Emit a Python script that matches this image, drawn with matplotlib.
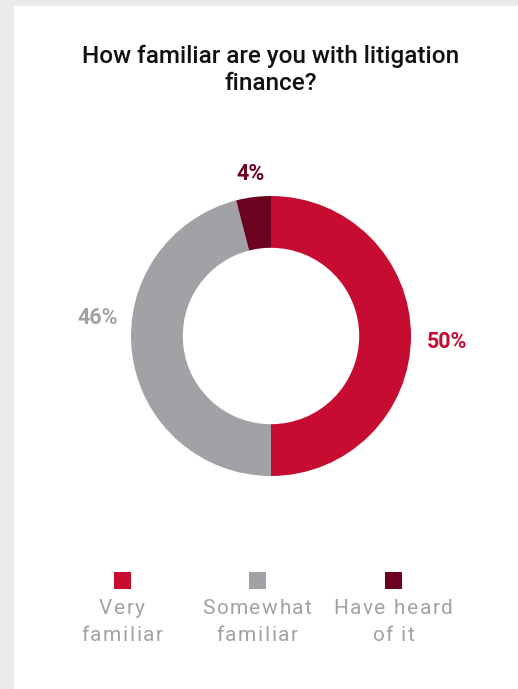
import matplotlib.pyplot as plt
from matplotlib.patches import Rectangle
from matplotlib.textpath import TextPath
from matplotlib.font_manager import FontProperties

labels = ['Very\nfamiliar', 'Somewhat\nfamiliar', 'Have heard\nof it']
values = [50, 46, 4]
colors = ['#c60c30', '#a2a1a6', '#6a0220']
title = 'How familiar are you with litigation\nfinance?'

W, H = 518, 689
fig = plt.figure(figsize=(W / 100, H / 100), dpi=100)
fig.patch.set_facecolor('#ebebeb')
# white card behind everything
bg = fig.add_axes([0, 0, 1, 1], zorder=-1)
bg.set_xlim(0, W)
bg.set_ylim(H, 0)
bg.axis('off')
bg.add_patch(Rectangle((14, 6), W - 14, H - 6, facecolor='white', edgecolor='none'))

fig.text(271 / W, 1 - 70 / H, title, ha='center', va='center',
         fontsize=17.5, fontweight='medium', family='Roboto', color='#111111',
         linespacing=1.25)

# donut
cx, cy, r = 271, 336, 140
ax = fig.add_axes([(cx - r) / W, (H - cy - r) / H, 2 * r / W, 2 * r / H])
wedges, _ = ax.pie(values, colors=colors, startangle=90, counterclock=False,
                   radius=1, wedgeprops=dict(width=0.37, linewidth=0))
ax.set_xlim(-1, 1)
ax.set_ylim(-1, 1)
ax.set_aspect('equal')
ax.axis('off')

# percent labels (placed outside the ring)
label_pos = [(447, 342), (98, 318), (251, 174)]
for (x, y), v, c in zip(label_pos, values, colors):
    fig.text(x / W, 1 - y / H, f'{v}%', ha='center', va='center',
             fontsize=15.5, fontweight='bold', family='Roboto', color=c)


# legend text is letter-spaced, so place it char by char
fp = FontProperties(family='Roboto', size=15)
px = 100 / 72.0  # points -> pixels


def text_w(s):
    return TextPath((0, 0), s, prop=fp).get_extents().width * px


def char_w(ch):
    if ch == ' ':
        return text_w('a a') - text_w('aa')
    return text_w('l' + ch + 'l') - text_w('ll')


def spaced_text(xc, y, s, track=1.6):
    ws = [char_w(ch) for ch in s]
    total = sum(ws) + track * (len(s) - 1)
    x = xc - total / 2
    for ch, w in zip(s, ws):
        bg.text(x, y, ch, ha='left', va='baseline', fontproperties=fp,
                color='#a2a1a6')
        x += w + track


leg_x = [122, 257, 393]
for x, lab, c in zip(leg_x, labels, colors):
    s = 17
    bg.add_patch(Rectangle((x - s / 2, 580 - s / 2), s, s, facecolor=c,
                           edgecolor='none'))
    for i, line in enumerate(lab.split('\n')):
        spaced_text(x, 614 + 27 * i, line)

fig.savefig('out.png', dpi=100, facecolor=fig.get_facecolor())
